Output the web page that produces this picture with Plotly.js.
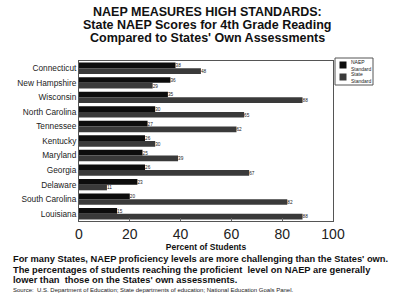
<!DOCTYPE html>
<html><head><meta charset="utf-8">
<script src="https://cdn.plot.ly/plotly-3.0.1.min.js"></script>
<style>html,body{margin:0;padding:0;background:#fff;}#chart{width:400px;height:304px;}</style>
</head><body><div id="chart"></div>
<script>
const states = ["Connecticut","New Hampshire","Wisconsin","North Carolina","Tennessee","Kentucky","Maryland","Georgia","Delaware","South Carolina","Louisiana"];
const naep = [38,36,35,30,27,26,25,26,23,20,15];
const stateStd = [48,29,88,65,62,30,39,67,11,82,88];
const xTicks = [0,20,40,60,80,100];
const seriesNames = ["NAEP<br>Standard","State<br>Standard"];
const seriesColors = ["#0d0d0d","#3a3a3a"];

const F = "Liberation Sans, Arial, sans-serif";
const traces = [
  {type:"bar", orientation:"h", name:seriesNames[0], y:states, x:naep,
   marker:{color:seriesColors[0], line:{width:0}},
   text:naep.map(String), textposition:"outside", textfont:{size:5, family:F, color:"#222"}, cliponaxis:false},
  {type:"bar", orientation:"h", name:seriesNames[1], y:states, x:stateStd,
   marker:{color:seriesColors[1], line:{width:0}},
   text:stateStd.map(String), textposition:"outside", textfont:{size:5, family:F, color:"#222"}, cliponaxis:false}
];
const px = x => (x-79)/254, py = y => (221-y)/160;
const titleLines = ["NAEP MEASURES HIGH STANDARDS:","State NAEP Scores for 4th Grade Reading","Compared to States' Own Assessments"];
const titleY = [12,25,38];
const ann = titleLines.map((t,i)=>({text:"<b>"+t+"</b>", xref:"paper", yref:"paper", x:px(207), y:py(titleY[i]),
  xanchor:"center", yanchor:"middle", showarrow:false, font:{size:12.5, family:F, color:"#111"}}));
const noteLines = ["For many States, NAEP proficiency levels are more challenging than the States' own.",
  "The percentages of students reaching the proficient  level on NAEP are generally",
  "lower than  those on the States' own assessments."];
const noteY = [259,270,280];
noteLines.forEach((t,i)=>ann.push({text:"<b>"+t+"</b>", xref:"paper", yref:"paper", x:px(11), y:py(noteY[i]),
  xanchor:"left", yanchor:"middle", showarrow:false, font:{size:9.3, family:F, color:"#111"}}));
ann.push({text:"Source:  U.S. Department of Education; State departments of education; National Education Goals Panel.",
  xref:"paper", yref:"paper", x:px(11), y:py(290), xanchor:"left", yanchor:"middle",
  showarrow:false, font:{size:6, family:F, color:"#222"}});
// custom compact legend
const shapes = [{type:"rect", xref:"paper", yref:"paper", x0:px(335), x1:px(373), y0:py(85), y1:py(58),
  line:{color:"#555", width:1}, fillcolor:"#fff"}];
const legY = [65,77];
seriesNames.forEach((n,i)=>{
  shapes.push({type:"rect", xref:"paper", yref:"paper", x0:px(339.5), x1:px(346.5), y0:py(legY[i]+3.5), y1:py(legY[i]-3.5),
    line:{width:0}, fillcolor:seriesColors[i]});
  ann.push({text:n, xref:"paper", yref:"paper", x:px(349), y:py(legY[i]), xanchor:"left", yanchor:"middle",
    showarrow:false, font:{size:5, family:F, color:"#222"}, align:"left"});
});
const layout = {
  width:400, height:304, paper_bgcolor:"#fff", plot_bgcolor:"#fff",
  margin:{l:79, r:67, t:61, b:83},
  font:{family:F, color:"#111"},
  barmode:"group", bargap:0.22, bargroupgap:0,
  showlegend:false,
  xaxis:{range:[0,100], tickvals:xTicks, ticktext:xTicks.map(String), ticks:"inside", ticklen:3,
         tickcolor:"#666", showgrid:false, zeroline:false, showline:true, mirror:true, linecolor:"#555",
         tickfont:{size:14, family:F, color:"#222"},
         title:{text:"<b>Percent of Students</b>", font:{size:8.5, family:F}, standoff:0}},
  yaxis:{autorange:"reversed", showgrid:false, showline:true, mirror:true, linecolor:"#555",
         tickfont:{size:8.3, family:F, color:"#222"}, ticks:"", ticklen:0, ticklabelstandoff:0},
  annotations:ann, shapes:shapes
};
Plotly.newPlot("chart", traces, layout, {staticPlot:true, displayModeBar:false});
</script></body></html>
